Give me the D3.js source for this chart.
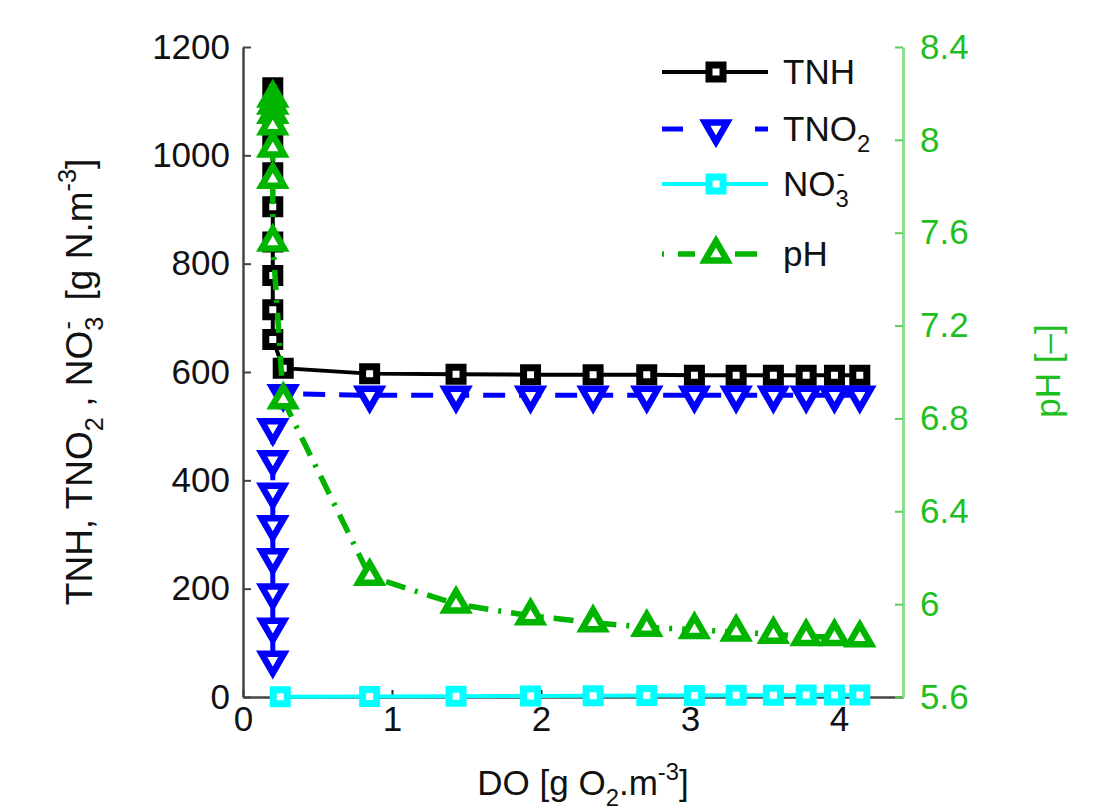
<!DOCTYPE html>
<html>
<head>
<meta charset="utf-8">
<script src="https://cdn.jsdelivr.net/npm/d3@7.9.0/dist/d3.min.js"></script>
<style>
  body { margin: 0; background: #fff; }
  text { font-family: "Liberation Sans", Arial, sans-serif; white-space: pre; }
</style>
</head>
<body>
<svg id="chart" width="1118" height="810"></svg>
<script>
// DO values, low-DO cluster first then the flat part
const doTNH  = [0.2, 0.2, 0.2, 0.2, 0.2, 0.2, 0.2, 0.2, 0.2, 0.27, 0.85, 1.43, 1.93, 2.35, 2.71, 3.03, 3.31, 3.56, 3.78, 3.97, 4.14];
const tnh    = [1125, 1070, 1020, 968, 905, 840, 778, 715, 660, 607, 597, 596, 595, 595, 595, 594, 594, 594, 594, 594, 594];

const doTNO2 = [0.2, 0.2, 0.2, 0.2, 0.2, 0.2, 0.2, 0.2, 0.27, 0.85, 1.43, 1.93, 2.35, 2.71, 3.03, 3.31, 3.56, 3.78, 3.97, 4.14];
const tno2   = [68, 129, 192, 257, 318, 378, 438, 497, 560, 557, 557, 557, 557, 557, 557, 557, 557, 557, 557, 557];

const doNO3  = [0.25, 0.85, 1.43, 1.93, 2.35, 2.71, 3.03, 3.31, 3.56, 3.78, 3.97, 4.14];
const no3    = [0.5, 1, 1.5, 2, 2.3, 2.6, 2.9, 3.1, 3.3, 3.5, 3.6, 3.7];

const doPH   = [0.2, 0.2, 0.2, 0.2, 0.2, 0.2, 0.2, 0.27, 0.85, 1.43, 1.93, 2.35, 2.71, 3.03, 3.31, 3.56, 3.78, 3.97, 4.14];
const ph     = [8.18, 8.15, 8.11, 8.06, 7.965, 7.83, 7.56, 6.88, 6.12, 6.0, 5.95, 5.92, 5.9, 5.89, 5.88, 5.87, 5.86, 5.86, 5.855];

const xTicks  = [0, 1, 2, 3, 4];
const yTicks  = [0, 200, 400, 600, 800, 1000, 1200];
const phTicks = [5.6, 6, 6.4, 6.8, 7.2, 7.6, 8, 8.4];

const green = "#00b400";
const fs = 35;

const svg = d3.select("#chart");

const x  = d3.scaleLinear().domain([0, 4.43]).range([243, 903]);
const yL = d3.scaleLinear().domain([0, 1200]).range([697, 47]);
const yR = d3.scaleLinear().domain([5.6, 8.4]).range([697, 47]);

// axes
const gx = svg.append("g").attr("transform", "translate(0,697)")
  .call(d3.axisBottom(x).tickValues(xTicks).tickFormat(d3.format("d")).tickSize(-7).tickSizeOuter(0).tickPadding(9));
gx.select(".domain").attr("stroke", "#444").attr("stroke-width", 2.5);
gx.selectAll(".tick line").attr("stroke", "#222").attr("stroke-width", 2);

const gy = svg.append("g").attr("transform", "translate(243,0)")
  .call(d3.axisLeft(yL).tickValues(yTicks).tickFormat(d3.format("d")).tickSize(-8).tickSizeOuter(0).tickPadding(13));
gy.select(".domain").attr("stroke", "#444").attr("stroke-width", 2.5);
gy.selectAll(".tick line").attr("stroke", "#444").attr("stroke-width", 2);

const gr = svg.append("g").attr("transform", "translate(903,0)")
  .call(d3.axisRight(yR).tickValues(phTicks).tickFormat(d => String(+d.toFixed(1))).tickSize(-8).tickSizeOuter(0).tickPadding(17));
gr.select(".domain").attr("stroke", "#8fdc8f").attr("stroke-width", 3);
gr.selectAll(".tick line").attr("stroke", "#5ccc5c").attr("stroke-width", 2);

svg.selectAll(".tick text").attr("font-size", fs).attr("font-family", "Liberation Sans, Arial, sans-serif");
gx.selectAll(".tick text").attr("fill", "#111");
gy.selectAll(".tick text").attr("fill", "#111");
gr.selectAll(".tick text").attr("fill", "#1fbf1f");

// rich text helper for sub/superscripts
function richText(t, parts, size) {
  let shift = 0;
  parts.forEach(p => {
    const target = p.s === "sub" ? size * 0.3 : p.s === "sup" ? -size * 0.42 : 0;
    const ts = t.append("tspan")
      .attr("font-size", p.s ? size * 0.68 : size)
      .attr("dy", target - shift)
      .text(p.t);
    if (p.back) ts.attr("dx", -p.back * size);
    shift = target;
  });
}

// series
const series = [
  { xs: doTNH, ys: tnh, scale: yL, color: "#000", dash: null, sym: "sq", lw: 4 },
  { xs: doTNO2, ys: tno2, scale: yL, color: "#0000ff", dash: "22,14", sym: "tdown", lw: 5 },
  { xs: doNO3, ys: no3, scale: yL, color: "#00ffff", dash: null, sym: "sq", lw: 4 },
  { xs: doPH, ys: ph, scale: yR, color: green, dash: "20,10,3,10", sym: "tup", lw: 5.5 }
];

const sqPath = d3.symbol().type(d3.symbolSquare).size(14 * 14)();
const triPath = d3.symbol().type(d3.symbolTriangle).size(215)();

function drawMarker(g, sym, cx, cy, color) {
  const p = g.append("path")
    .attr("d", sym === "sq" ? sqPath : triPath)
    .attr("fill", "#fff")
    .attr("stroke", color)
    .attr("stroke-width", sym === "sq" ? 7 : 6.5)
    .attr("stroke-linejoin", "miter");
  if (sym === "tdown") p.attr("transform", `translate(${cx},${cy}) rotate(180)`);
  else p.attr("transform", `translate(${cx},${cy})`);
}

series.forEach(s => {
  const pts = s.xs.map((d, i) => [x(d), s.scale(s.ys[i])]);
  const g = svg.append("g");
  g.append("path")
    .attr("d", d3.line()(pts))
    .attr("fill", "none")
    .attr("stroke", s.color)
    .attr("stroke-width", s.lw)
    .attr("stroke-dasharray", s.dash);
  pts.forEach(p => drawMarker(g, s.sym, p[0], p[1], s.color));
});

// legend
const legend = [
  { parts: [{ t: "TNH" }], color: "#000", dash: null, sym: "sq", lw: 4, y: 72 },
  { parts: [{ t: "TNO" }, { t: "2", s: "sub" }], color: "#0000ff", dash: "21,72", sym: "tdown", lw: 5, y: 129 },
  { parts: [{ t: "NO" }, { t: "3", s: "sub" }, { t: "-", s: "sup", back: 0.34 }], color: "#00ffff", dash: null, sym: "sq", lw: 4, y: 184 },
  { parts: [{ t: "pH" }], color: green, dash: "2,14,17,40,22,100", sym: "tup", lw: 5.5, y: 254 }
];
legend.forEach(l => {
  const g = svg.append("g");
  g.append("line").attr("x1", 662).attr("x2", 768).attr("y1", l.y).attr("y2", l.y)
    .attr("stroke", l.color).attr("stroke-width", l.lw).attr("stroke-dasharray", l.dash);
  drawMarker(g, l.sym, 716, l.y, l.color);
  const t = g.append("text").attr("x", 783).attr("y", l.y + 12).attr("fill", "#111");
  richText(t, l.parts, fs);
});

// axis titles
const xl = svg.append("text").attr("x", 583).attr("y", 795).attr("text-anchor", "middle").attr("fill", "#111");
richText(xl, [{ t: "DO [g O" }, { t: "2", s: "sub" }, { t: ".m" }, { t: "-3", s: "sup" }, { t: "]" }], fs);

const yl = svg.append("text").attr("transform", "translate(92,382) rotate(-90)").attr("text-anchor", "middle").attr("fill", "#111");
richText(yl, [{ t: "TNH, TNO" }, { t: "2", s: "sub" }, { t: " , NO" }, { t: "3", s: "sub" }, { t: "-", s: "sup", back: 0.34 },
  { t: "  [g N.m" }, { t: "-3", s: "sup" }, { t: "]" }], 37);

svg.append("text").attr("transform", "translate(1060,371) rotate(-90)").attr("text-anchor", "middle")
  .attr("fill", "#1fbf1f").attr("font-size", fs).text("pH [–]");
</script>
</body>
</html>
